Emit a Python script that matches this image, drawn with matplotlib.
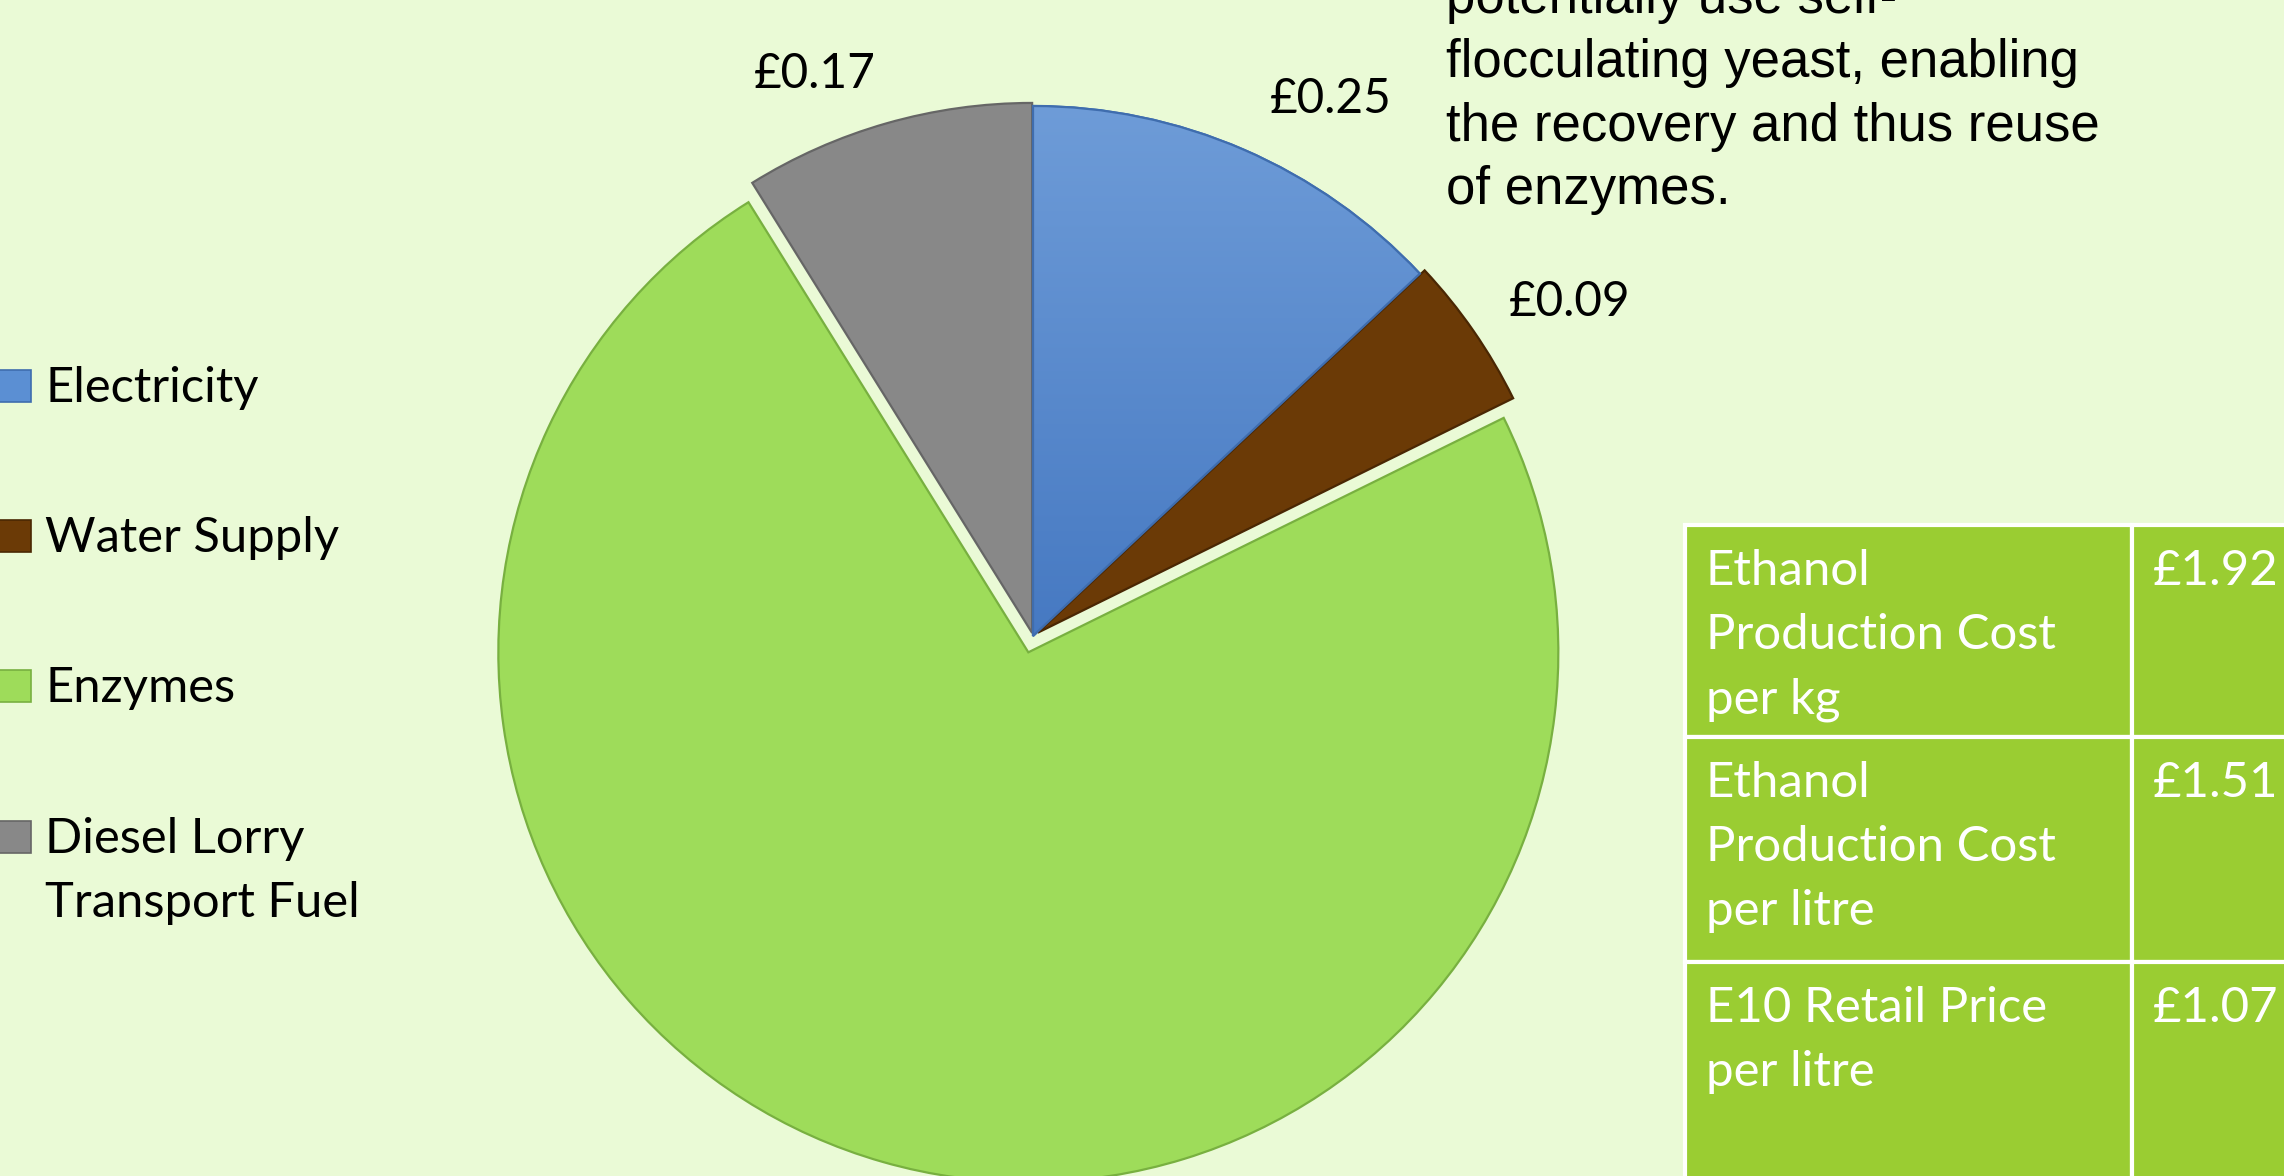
import matplotlib
matplotlib.use("Agg")
import matplotlib.pyplot as plt
import numpy as np
from matplotlib.patches import Rectangle, PathPatch
from matplotlib.colors import LinearSegmentedColormap

# ---------------- data ----------------
categories = ["Electricity", "Water Supply", "Enzymes", "Diesel Lorry\nTransport Fuel"]
costs = [0.25, 0.09, 1.41, 0.17]
cost_labels = ["£0.25", "£0.09", "£1.41", "£0.17"]
table_items = ["Ethanol\nProduction Cost\nper kg",
               "Ethanol\nProduction Cost\nper litre",
               "E10 Retail Price\nper litre"]
table_values = ["£1.92", "£1.51", "£1.07"]
note_lines = ["potentially use self-", "flocculating yeast, enabling",
              "the recovery and thus reuse", "of enzymes."]

# ---------------- style ----------------
W, H = 2284, 1176
BG = "#EAFAD6"
slice_colors = ["#5B8FD3", "#6B3A06", "#9EDC5A", "#888888"]
slice_edges = ["#3F6DAE", "#4A2703", "#78B040", "#666666"]
explode_frac = [0.0, 0.011, 0.032, 0.006]
TABLE_GREEN = "#9ACD32"
SANS = "Lato"
NOTE_FONT = "Liberation Sans"

fig = plt.figure(figsize=(W / 100, H / 100), dpi=100, facecolor=BG)
ax = fig.add_axes([0, 0, 1, 1])
ax.set_facecolor(BG)


def Y(y):
    return H - y


# ---------------- pie ----------------
cx, cy, R = 1033, Y(636), 530
wedges, _ = ax.pie(costs, explode=[e * R for e in explode_frac], colors=slice_colors,
                   startangle=90, counterclock=False, center=(cx, cy), radius=R,
                   frame=True, wedgeprops=dict(linewidth=1.6))
for w, ec in zip(wedges, slice_edges):
    w.set_edgecolor(ec)

# soft vertical gradient on the electricity slice
grad = np.linspace(0, 1, 256).reshape(-1, 1)
cmap = LinearSegmentedColormap.from_list("blue_grad", ["#4679C2", "#6E9CD8"])
im = ax.imshow(grad, cmap=cmap, extent=(cx - 2, cx + R + 2, cy - 2, cy + R + 2),
               origin="lower", aspect="auto", zorder=1.05, interpolation="bilinear")
im.set_clip_path(wedges[0])
ax.add_patch(PathPatch(wedges[0].get_path(), fill=False, edgecolor=slice_edges[0],
                       linewidth=1.6, zorder=1.1))

ax.set_xlim(0, W)
ax.set_ylim(0, H)
ax.axis("off")

renderer = fig.canvas.get_renderer()


def fit(s, family, target):
    t = ax.text(0, 0, s, family=family, fontsize=40)
    w = t.get_window_extent(renderer).width
    t.remove()
    return 40 * target / w


note_fs = fit("flocculating yeast, enabling", NOTE_FONT, 634)
table_fs = fit("Production Cost", SANS, 350)
legend_fs = fit("Electricity", SANS, 214)
label_fs = fit("£0.09", SANS, 122)

# ---------------- slice value labels ----------------
label_pos = {0: (1270, 113), 1: (1509, 316), 3: (754, 88)}
for i, (lx, ly) in label_pos.items():
    ax.text(lx, Y(ly), cost_labels[i], family=SANS, fontsize=label_fs,
            ha="left", va="baseline", color="black", zorder=5)

# ---------------- note text ----------------
note_baselines = [13, 77, 141, 204]
for line, b in zip(note_lines, note_baselines):
    ax.text(1446, Y(b), line, family=NOTE_FONT, fontsize=note_fs,
            ha="left", va="baseline", color="black", zorder=5)

# ---------------- legend ----------------
legend_baselines = [402, 552, 702, 853]
line_pitch = 64
for name, col, ec, b in zip(categories, slice_colors, slice_edges, legend_baselines):
    ax.add_patch(Rectangle((-3, Y(b)), 34, 32, facecolor=col, edgecolor=ec,
                           linewidth=1.2, zorder=4))
    for k, part in enumerate(name.split("\n")):
        ax.text(45, Y(b + k * line_pitch), part, family=SANS, fontsize=legend_fs,
                ha="left", va="baseline", color="black", zorder=5)

# ---------------- table ----------------
row_tops = [525, 737, 962, H + 20]
col_x = [1685, 2132, W + 20]
for r in range(3):
    top, bot = row_tops[r], row_tops[r + 1]
    for c in range(2):
        ax.add_patch(Rectangle((col_x[c], Y(bot)), col_x[c + 1] - col_x[c], bot - top,
                               facecolor=TABLE_GREEN, edgecolor="white",
                               linewidth=3.0, zorder=3))
    for k, part in enumerate(table_items[r].split("\n")):
        ax.text(1706, Y(top + 60 + k * line_pitch), part, family=SANS, fontsize=table_fs,
                ha="left", va="baseline", color="white", zorder=5)
    ax.text(2153, Y(top + 60), table_values[r], family=SANS, fontsize=table_fs,
            ha="left", va="baseline", color="white", zorder=5)

fig.savefig("out.png", dpi=100, facecolor=BG)
